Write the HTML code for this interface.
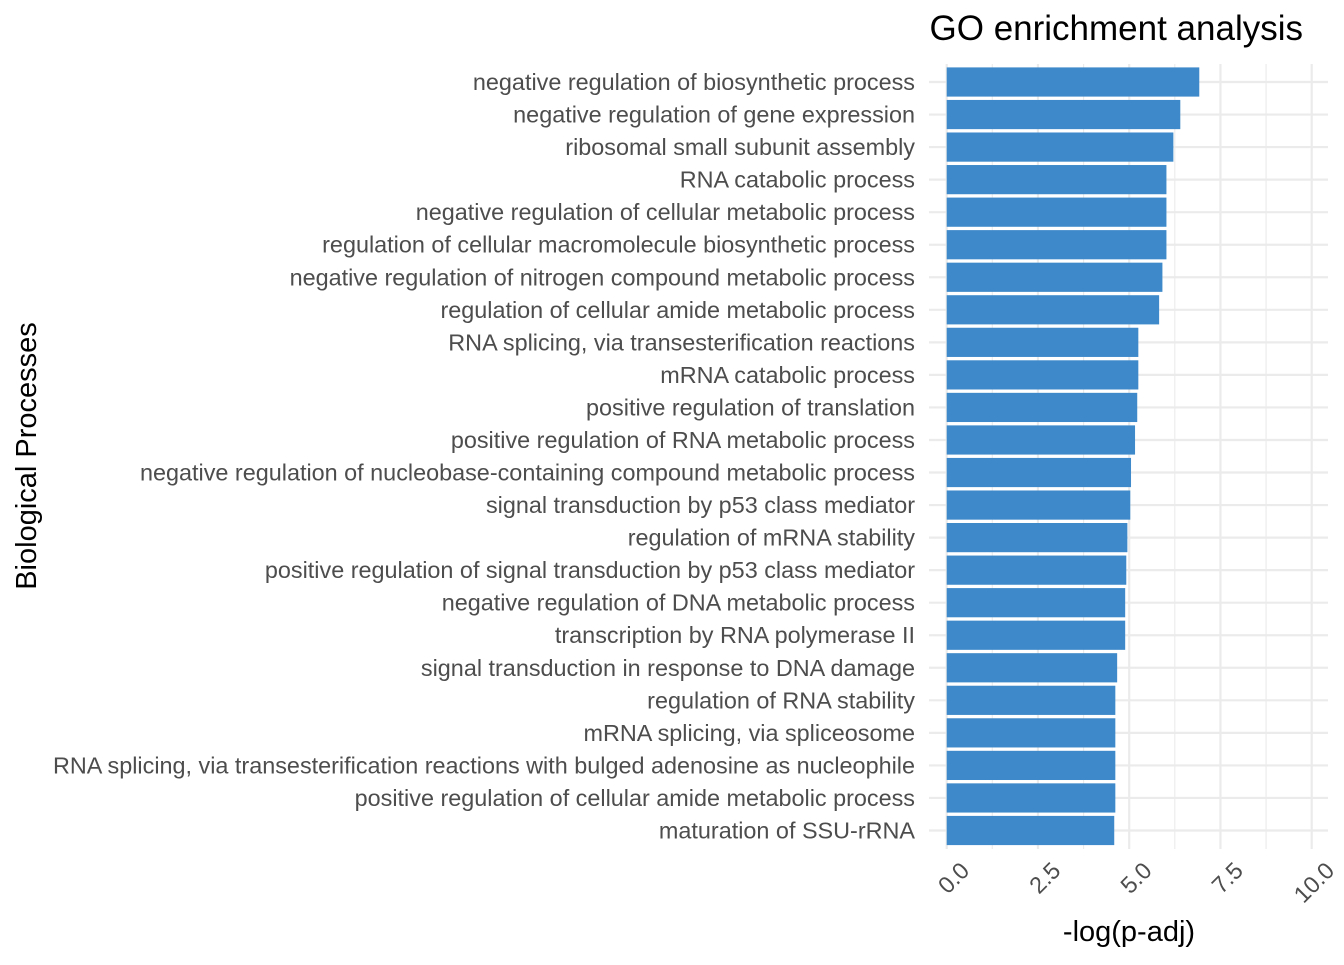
<!DOCTYPE html>
<html><head><meta charset="utf-8"><style>
body{margin:0;background:#fff;}
svg text{font-family:"Liberation Sans",Arial,sans-serif;}
</style></head><body>
<svg id="chart" width="1344" height="960" xmlns="http://www.w3.org/2000/svg">
<text x="1303" y="40" font-size="35" text-anchor="end" fill="#000">GO enrichment analysis</text>
<text x="1129" y="941" font-size="29" text-anchor="middle" fill="#000">-log(p-adj)</text>
<text transform="translate(36,456) rotate(-90)" font-size="29" text-anchor="middle" fill="#000">Biological Processes</text>
<g id="grid"></g><g id="bars"></g><g id="ylabels"></g><g id="xlabels"></g>
</svg>
<script>
const categories=["negative regulation of biosynthetic process","negative regulation of gene expression","ribosomal small subunit assembly","RNA catabolic process","negative regulation of cellular metabolic process","regulation of cellular macromolecule biosynthetic process","negative regulation of nitrogen compound metabolic process","regulation of cellular amide metabolic process","RNA splicing, via transesterification reactions","mRNA catabolic process","positive regulation of translation","positive regulation of RNA metabolic process","negative regulation of nucleobase-containing compound metabolic process","signal transduction by p53 class mediator","regulation of mRNA stability","positive regulation of signal transduction by p53 class mediator","negative regulation of DNA metabolic process","transcription by RNA polymerase II","signal transduction in response to DNA damage","regulation of RNA stability","mRNA splicing, via spliceosome","RNA splicing, via transesterification reactions with bulged adenosine as nucleophile","positive regulation of cellular amide metabolic process","maturation of SSU-rRNA"];
const values=[6.92,6.40,6.21,6.02,6.02,6.02,5.91,5.82,5.25,5.25,5.22,5.16,5.05,5.03,4.95,4.92,4.89,4.89,4.67,4.62,4.62,4.62,4.62,4.59];
const xTicks=[0,2.5,5,7.5,10];
const xTickLabels=["0.0","2.5","5.0","7.5","10.0"];
const NS="http://www.w3.org/2000/svg";
const X0=946.7,PX=36.5;
const x=v=>X0+v*PX;
const Y0=82,STEP=(830.5-82)/(categories.length-1);
const y=i=>Y0+i*STEP;
function mk(t,a,p){const e=document.createElementNS(NS,t);for(const k in a)e.setAttribute(k,a[k]);p.appendChild(e);return e;}
const grid=document.getElementById('grid'),bars=document.getElementById('bars'),yl=document.getElementById('ylabels'),xl=document.getElementById('xlabels');
for(let v=0;v<=10.001;v+=1.25){
 const major=Math.abs(v/2.5-Math.round(v/2.5))<1e-6;
 const l=mk('line',{x1:x(v),x2:x(v),y1:64,y2:849,stroke:'#ebebeb','stroke-width':major?2.2:1.1},grid);
 
 
}
categories.forEach((c,i)=>{
 const g=mk('line',{x1:929,x2:1328,y1:y(i),y2:y(i),stroke:'#ebebeb','stroke-width':2.2},grid);
 
 
 const r=mk('rect',{x:x(0),y:y(i)-14.6,width:x(values[i])-x(0),height:29.2,fill:'#3d89c9'},bars);
 
 
 const t=mk('text',{x:915,y:y(i)+8,'font-size':23.4,'text-anchor':'end',fill:'#4d4d4d'},yl);
 t.textContent=c;
 
 
});
xTicks.forEach((v,i)=>{
 const t=mk('text',{transform:`translate(${x(v)+12},${860}) rotate(-45)`,'font-size':23.4,'text-anchor':'end',fill:'#4d4d4d',dy:'17'},xl);
 t.textContent=xTickLabels[i];
 
 
});
</script>
</body></html>
